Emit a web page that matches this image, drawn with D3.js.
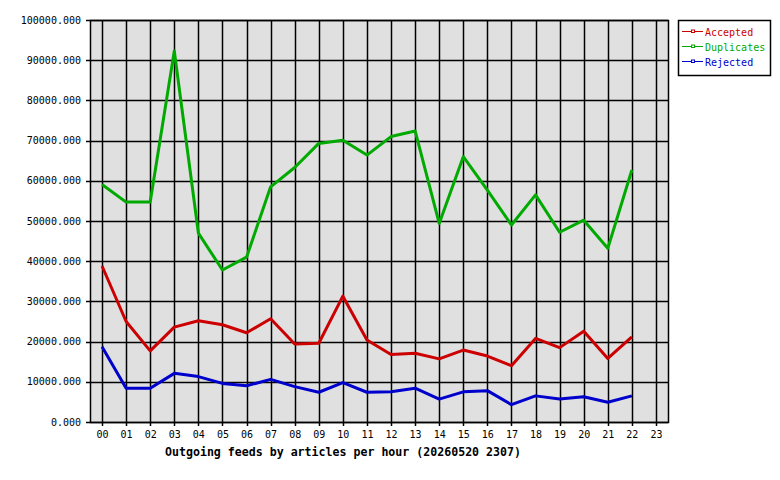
<!DOCTYPE html>
<html>
<head>
<meta charset="utf-8">
<script src="https://cdn.jsdelivr.net/npm/d3@7"></script>
<style>
  body { margin: 0; background: #fff; }
  text { font-family: "DejaVu Sans Mono", monospace; }
</style>
</head>
<body>
<svg id="vis"></svg>
<script>
// datos
const horas = ["00","01","02","03","04","05","06","07","08","09","10","11",
  "12","13","14","15","16","17","18","19","20","21","22","23"];
const accepted = [38800, 25000, 17700, 23600, 25200, 24200, 22200, 25700, 19400, 19600, 31300, 20400,
  16800, 17100, 15700, 17900, 16400, 14000, 20800, 18500, 22600, 15800, 21200];
const duplicates = [59100, 54700, 54700, 92300, 47000, 37800, 41000, 58500, 63300, 69300, 70100, 66400,
  71000, 72400, 49400, 66000, 57700, 49000, 56500, 47200, 50200, 43200, 62700];
const rejected = [18700, 8400, 8400, 12100, 11300, 9600, 9000, 10600, 8800, 7400, 9800, 7400,
  7500, 8400, 5700, 7500, 7800, 4300, 6500, 5700, 6300, 4900, 6500];
const yTicks = [0, 10000, 20000, 30000, 40000, 50000, 60000, 70000, 80000, 90000, 100000];
const series = [
  { name: "Accepted", values: accepted, color: "#cc0000" },
  { name: "Duplicates", values: duplicates, color: "#00aa00" },
  { name: "Rejected", values: rejected, color: "#0000cc" },
];
const titulo = "Outgoing feeds by articles per hour (20260520 2307)";

const WIDTH = 780;
const HEIGHT = 480;
const MARGIN = { top: 20, bottom: 58, left: 90, right: 112 };
const WIDTHVIS = WIDTH - MARGIN.left - MARGIN.right;
const HEIGHTVIS = HEIGHT - MARGIN.top - MARGIN.bottom;

const svg = d3.select("#vis").attr("width", WIDTH).attr("height", HEIGHT);

const x = d3.scaleBand().domain(horas).range([0, WIDTHVIS]);
const cx = (h) => x(h) + x.bandwidth() / 2;
const y = d3.scaleLinear().domain([0, 100000]).range([HEIGHTVIS, 0]);

const g = svg.append("g").attr("transform", `translate(${MARGIN.left},${MARGIN.top})`);

// fondo
g.append("rect")
  .attr("width", WIDTHVIS)
  .attr("height", HEIGHTVIS)
  .attr("fill", "#e0e0e0");

// grilla horizontal
g.selectAll(".gy")
  .data(yTicks)
  .join("line")
  .attr("x1", -4)
  .attr("x2", WIDTHVIS)
  .attr("y1", (d) => Math.round(y(d)) + 0.5)
  .attr("y2", (d) => Math.round(y(d)) + 0.5)
  .attr("stroke", "#000")
  .attr("stroke-width", 1.5);

// grilla vertical
g.selectAll(".gx")
  .data(horas)
  .join("line")
  .attr("x1", (d) => Math.round(cx(d)) + 0.5)
  .attr("x2", (d) => Math.round(cx(d)) + 0.5)
  .attr("y1", 0)
  .attr("y2", HEIGHTVIS + 4)
  .attr("stroke", "#000")
  .attr("stroke-width", 1.5);

// borde
g.append("rect")
  .attr("x", 0.5)
  .attr("y", 0.5)
  .attr("width", WIDTHVIS)
  .attr("height", HEIGHTVIS)
  .attr("fill", "none")
  .attr("stroke", "#000")
  .attr("stroke-width", 1.5);

// etiquetas eje Y
g.selectAll(".ly")
  .data(yTicks)
  .join("text")
  .attr("x", -9)
  .attr("y", (d) => y(d) + 3.5)
  .attr("text-anchor", "end")
  .attr("font-size", 10)
  .text((d) => d3.format(".3f")(d));

// etiquetas eje X
g.selectAll(".lx")
  .data(horas)
  .join("text")
  .attr("x", (d) => cx(d) + 0.5)
  .attr("y", HEIGHTVIS + 16)
  .attr("text-anchor", "middle")
  .attr("font-size", 10)
  .text((d) => d);

svg.append("text")
  .attr("x", 165)
  .attr("y", 456)
  .attr("font-size", 11.6)
  .attr("font-weight", "bold")
  .text(titulo);

// lineas
const linea = d3.line()
  .x((d, i) => cx(horas[i]))
  .y((d) => y(d));

g.selectAll(".serie")
  .data(series)
  .join("path")
  .attr("d", (d) => linea(d.values))
  .attr("fill", "none")
  .attr("stroke", (d) => d.color)
  .attr("stroke-width", 3)
  .attr("stroke-linejoin", "round");

// leyenda
const ley = svg.append("g").attr("transform", "translate(678,20)");
ley.append("rect")
  .attr("x", 0.5)
  .attr("y", 0.5)
  .attr("width", 92)
  .attr("height", 55)
  .attr("fill", "#fff")
  .attr("stroke", "#000")
  .attr("stroke-width", 1.5);

const filas = ley.selectAll(".fila")
  .data(series)
  .join("g")
  .attr("transform", (d, i) => `translate(0,${11 + i * 15})`);
filas.append("line")
  .attr("x1", 4)
  .attr("x2", 25)
  .attr("y1", 0.5)
  .attr("y2", 0.5)
  .attr("stroke", (d) => d.color);
filas.append("rect")
  .attr("x", 13.5)
  .attr("y", -1)
  .attr("width", 3)
  .attr("height", 2.5)
  .attr("fill", "#fff")
  .attr("stroke", (d) => d.color);
filas.append("text")
  .attr("x", 27)
  .attr("y", 5)
  .attr("font-size", 10)
  .attr("fill", (d) => d.color)
  .text((d) => d.name);
</script>
</body>
</html>
